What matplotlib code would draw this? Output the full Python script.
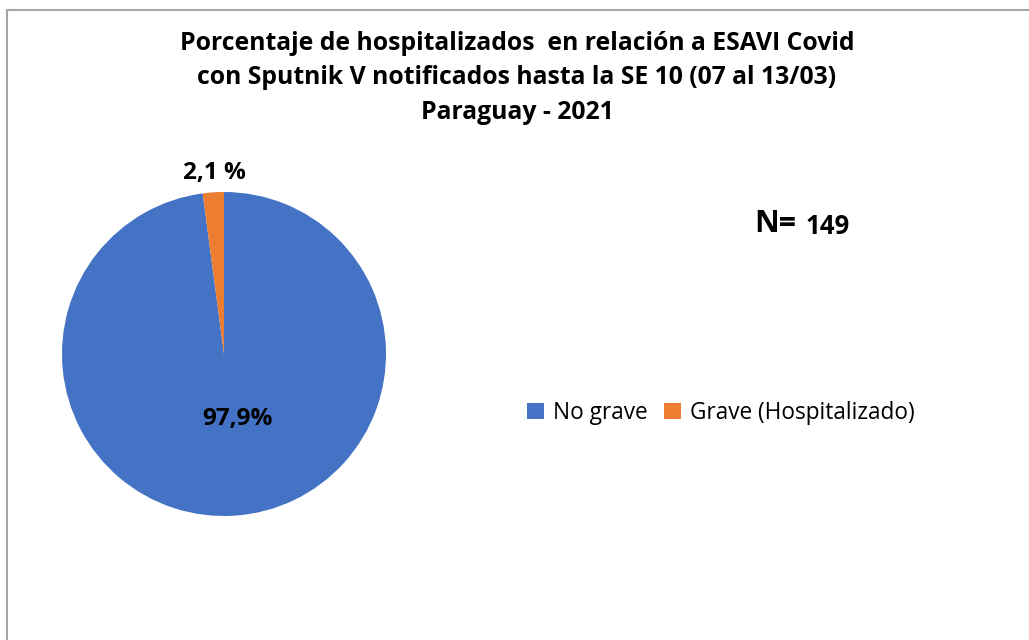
import matplotlib
matplotlib.use("Agg")
import matplotlib.pyplot as plt
from matplotlib.patches import Rectangle, Patch

categories = ["No grave", "Grave (Hospitalizado)"]
values = [97.9, 2.1]
labels = ["97,9%", "2,1 %"]
colors = ["#4472C4", "#ED7D31"]
title = ("Porcentaje de hospitalizados  en relación a ESAVI Covid\n"
         "con Sputnik V notificados hasta la SE 10 (07 al 13/03)\n"
         "Paraguay - 2021")
n_total = 149

plt.rcParams['font.family'] = ['Open Sans', 'DejaVu Sans']

W, H = 1029, 640
fig = plt.figure(figsize=(W / 100, H / 100), dpi=100)

# chart border
fig.patches.append(Rectangle((7 / W, -0.1), 1.2, (H - 10.5) / H + 0.1,
                             transform=fig.transFigure, fill=False,
                             edgecolor="#A6A6A6", linewidth=1.5))

cx, cy, r = 224, 354, 162
ax = fig.add_axes([(cx - r) / W, (H - cy - r) / H, 2 * r / W, 2 * r / H])
wedges, _ = ax.pie(values, colors=colors, startangle=90, counterclock=False,
                   wedgeprops=dict(linewidth=0))
ax.set_xlim(-1, 1)
ax.set_ylim(-1, 1)
ax.set_aspect('equal')

def px(x, y):
    return x / W, 1 - y / H

fig.text(*px(237, 419), labels[0], ha='center', va='center',
         fontsize=17.5, fontweight='bold', color='black')
fig.text(*px(214, 173), labels[1], ha='center', va='center',
         fontsize=17.5, fontweight='bold', color='black')

fig.text(*px(517, 78), title, ha='center', va='center', fontsize=17.8,
         fontweight='bold', linespacing=1.52, color='black')

fig.text(*px(754, 224), "N=", ha='left', va='center', fontsize=22,
         fontweight='bold')
fig.text(*px(806, 226), str(n_total), ha='left', va='center', fontsize=18.5,
         fontweight='bold')

handles = [Patch(facecolor=c, edgecolor='none') for c in colors]
fig.legend(handles, categories, loc='center left',
           bbox_to_anchor=px(507, 413), frameon=False, ncol=2,
           fontsize=16.3, handlelength=0.72, handleheight=0.72,
           handletextpad=0.4, columnspacing=0.75)

fig.savefig("out.png", dpi=100, facecolor='white')
